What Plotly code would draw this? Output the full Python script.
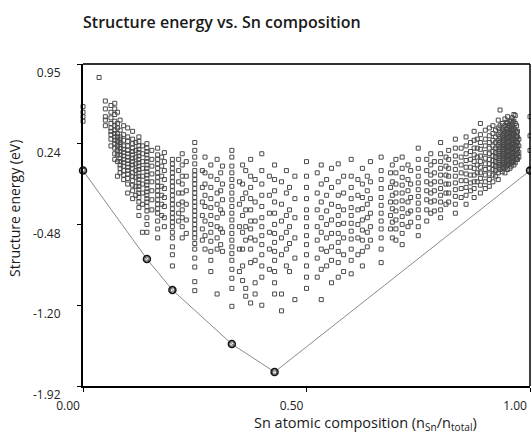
import plotly.graph_objects as go

# Sn fraction of each composition column
col_x = [0.0, 0.036, 0.05, 0.0625, 0.071, 0.077, 0.083, 0.091, 0.1, 0.111, 0.118, 0.125, 0.133, 0.143,
         0.154, 0.167, 0.176, 0.182, 0.2, 0.214, 0.222, 0.231, 0.25, 0.267, 0.273, 0.286, 0.3, 0.308,
         0.312, 0.333, 0.35, 0.357, 0.364, 0.375, 0.385, 0.4, 0.417, 0.4286, 0.444, 0.455, 0.462, 0.474,
         0.5, 0.524, 0.533, 0.545, 0.556, 0.571, 0.583, 0.6, 0.615, 0.625, 0.636, 0.643, 0.667, 0.688,
         0.692, 0.7, 0.714, 0.727, 0.733, 0.75, 0.769, 0.778, 0.786, 0.8, 0.812, 0.818, 0.833, 0.846,
         0.857, 0.867, 0.875, 0.882, 0.889, 0.9, 0.909, 0.917, 0.923, 0.929, 0.933, 0.938, 0.941, 0.944,
         0.947, 0.95, 0.952, 0.955, 0.958, 0.96, 0.962, 0.964, 0.967, 0.97, 0.972, 0.975, 1.0]

# Structure energies (eV) read per column
col_e = [
    [0.57, 0.52, 0.48, 0.44, 0.0],
    [0.83],
    [0.62, 0.55, 0.48, 0.45, 0.40],
    [0.58, 0.52, 0.47, 0.42, 0.38, 0.35, 0.32, 0.28, 0.22],
    [0.60, 0.55, 0.50, 0.44, 0.40, 0.36, 0.33, 0.30, 0.27, 0.24, 0.20, 0.15, 0.10],
    [0.52, 0.42, 0.38, 0.33, 0.30, 0.26, 0.22, 0.18, 0.14, 0.08, -0.05],
    [0.45, 0.36, 0.30, 0.28, 0.25, 0.23, 0.20, 0.17, 0.14, 0.11, 0.08, 0.05, 0.02, -0.02],
    [0.40, 0.32, 0.27, 0.22, 0.19, 0.16, 0.13, 0.10, 0.07, 0.04, 0.0, -0.04, -0.08],
    [0.38, 0.30, 0.26, 0.22, 0.18, 0.15, 0.12, 0.09, 0.06, 0.03, 0.0, -0.03, -0.07, -0.12, -0.20],
    [0.35, 0.28, 0.24, 0.20, 0.17, 0.14, 0.11, 0.08, 0.05, 0.02, -0.02, -0.05, -0.09, -0.13, -0.18, -0.25],
    [0.25, 0.18, 0.12, 0.06, 0.0, -0.06, -0.14, -0.22],
    [0.30, 0.26, 0.22, 0.19, 0.16, 0.13, 0.10, 0.07, 0.04, 0.01, -0.02, -0.05, -0.08, -0.11, -0.14, -0.17,
     -0.20, -0.24, -0.28, -0.33, -0.40],
    [0.22, 0.15, 0.08, 0.02, -0.05, -0.12, -0.20, -0.30, -0.55],
    [0.24, 0.20, 0.17, 0.14, 0.11, 0.08, 0.05, 0.02, -0.01, -0.04, -0.07, -0.10, -0.13, -0.16, -0.19, -0.22,
     -0.25, -0.28, -0.32, -0.36, -0.42, -0.48, -0.55, -0.788],
    [0.18, 0.10, 0.04, -0.03, -0.10, -0.18, -0.26, -0.35],
    [0.20, 0.14, 0.10, 0.06, 0.02, -0.02, -0.06, -0.10, -0.14, -0.18, -0.22, -0.26, -0.30, -0.34, -0.38,
     -0.45, -0.52, -0.60],
    [0.12, 0.04, -0.05, -0.14, -0.22, -0.30, -0.40],
    [0.16, 0.08, 0.0, -0.08, -0.16, -0.24, -0.32, -0.42, -0.50],
    [0.10, 0.06, 0.02, -0.02, -0.06, -0.10, -0.14, -0.18, -0.22, -0.26, -0.30, -0.34, -0.38, -0.42, -0.46,
     -0.50, -0.55, -0.60, -0.68, -0.75, -0.85, -1.064],
    [0.10, 0.0, -0.10, -0.20, -0.30, -0.38, -0.45],
    [0.15, 0.05, -0.05, -0.12, -0.20, -0.28, -0.35, -0.42, -0.50, -0.60],
    [0.08, -0.05, -0.18, -0.30, -0.44, -0.56],
    [0.25, 0.18, 0.12, 0.06, 0.0, -0.04, -0.08, -0.12, -0.16, -0.20, -0.24, -0.28, -0.32, -0.36, -0.40,
     -0.44, -0.48, -0.52, -0.56, -0.60, -0.65, -0.70, -0.78, -0.86, -0.99, -1.07],
    [0.0, -0.15, -0.28, -0.40, -0.52, -0.62],
    [0.12, -0.02, -0.12, -0.22, -0.32, -0.45, -0.58, -0.70],
    [0.05, -0.05, -0.15, -0.25, -0.33, -0.40, -0.48, -0.55, -0.63, -0.72, -0.80, -0.90],
    [0.10, -0.08, -0.20, -0.30, -0.42, -0.50, -0.60, -0.70, -1.10],
    [-0.02, -0.18, -0.35, -0.52, -0.66],
    [0.04, -0.12, -0.26, -0.38, -0.55, -0.72],
    [0.18, 0.12, 0.04, -0.02, -0.08, -0.14, -0.20, -0.26, -0.32, -0.38, -0.44, -0.50, -0.56, -0.62, -0.68,
     -0.74, -0.80, -0.88, -0.96, -1.05, -1.21, -1.546],
    [-0.10, -0.30, -0.50, -0.70, -0.90],
    [0.05, -0.12, -0.25, -0.40, -0.55, -0.70, -0.85, -0.98],
    [0.0, -0.20, -0.35, -0.50, -0.62, -1.05, -1.12],
    [0.10, -0.05, -0.15, -0.25, -0.35, -0.45, -0.52, -0.60, -0.70, -0.82, -1.18],
    [-0.08, -0.28, -0.45, -0.62, -0.80, -1.00, -1.10],
    [0.15, 0.0, -0.12, -0.22, -0.32, -0.42, -0.50, -0.58, -0.66, -0.75, -0.85, -0.95, -1.20],
    [-0.05, -0.22, -0.38, -0.55, -0.70, -0.88],
    [0.05, -0.08, -0.18, -0.28, -0.38, -0.48, -0.56, -0.64, -0.72, -0.80, -0.90, -1.00, -1.10, -1.795],
    [-0.10, -0.30, -0.45, -0.60, -0.75, -1.10, -1.25],
    [0.0, -0.20, -0.40, -0.55, -0.70, -0.85],
    [-0.15, -0.35, -0.50, -0.65, -0.90],
    [-0.05, -0.25, -0.42, -0.60, -0.78, -1.15],
    [0.08, -0.05, -0.15, -0.25, -0.35, -0.42, -0.50, -0.58, -0.66, -0.75, -0.85, -0.95, -1.05],
    [-0.02, -0.20, -0.35, -0.50, -0.62, -0.78, -0.95],
    [0.05, -0.12, -0.28, -0.42, -0.55, -0.70, -0.88, -1.15],
    [-0.08, -0.22, -0.36, -0.48, -0.60, -0.72, -0.85],
    [0.02, -0.15, -0.30, -0.44, -0.56, -0.68, -0.80, -1.00],
    [0.06, -0.10, -0.22, -0.32, -0.40, -0.48, -0.56, -0.64, -0.72, -0.82, -0.95],
    [-0.05, -0.20, -0.35, -0.47, -0.60, -0.75, -0.90],
    [0.10, -0.05, -0.15, -0.25, -0.33, -0.40, -0.47, -0.54, -0.61, -0.70, -0.80, -0.92],
    [-0.08, -0.22, -0.35, -0.48, -0.60, -0.75],
    [0.02, -0.12, -0.24, -0.34, -0.44, -0.53, -0.62, -0.72, -0.85],
    [-0.05, -0.18, -0.30, -0.42, -0.55, -0.68],
    [0.08, -0.10, -0.25, -0.38, -0.50, -0.62],
    [0.12, 0.0, -0.08, -0.16, -0.24, -0.31, -0.38, -0.45, -0.52, -0.60, -0.70, -0.82],
    [-0.02, -0.15, -0.28, -0.40, -0.52],
    [0.05, -0.10, -0.22, -0.34, -0.46, -0.60],
    [0.10, -0.02, -0.12, -0.20, -0.28, -0.36, -0.44, -0.52, -0.62],
    [0.12, 0.02, -0.06, -0.13, -0.20, -0.27, -0.34, -0.41, -0.48, -0.56, -0.66],
    [0.05, -0.08, -0.18, -0.28, -0.38, -0.50],
    [0.0, -0.12, -0.24, -0.36, -0.46],
    [0.20, 0.10, 0.02, -0.05, -0.11, -0.17, -0.23, -0.29, -0.35, -0.42, -0.50, -0.58],
    [0.10, 0.0, -0.10, -0.18, -0.26, -0.35, -0.45],
    [0.15, 0.05, -0.04, -0.12, -0.20, -0.28, -0.38],
    [0.08, -0.02, -0.10, -0.18, -0.27, -0.36],
    [0.25, 0.15, 0.08, 0.02, -0.04, -0.10, -0.16, -0.22, -0.28, -0.35, -0.42],
    [0.12, 0.04, -0.04, -0.12, -0.20, -0.30],
    [0.18, 0.10, 0.02, -0.05, -0.12, -0.20, -0.28],
    [0.28, 0.20, 0.13, 0.07, 0.01, -0.05, -0.11, -0.17, -0.23, -0.30, -0.38],
    [0.20, 0.12, 0.05, -0.02, -0.09, -0.16, -0.24],
    [0.30, 0.22, 0.15, 0.09, 0.03, -0.03, -0.09, -0.15, -0.22, -0.30],
    [0.25, 0.17, 0.10, 0.03, -0.04, -0.11, -0.18],
    [0.35, 0.27, 0.20, 0.14, 0.08, 0.02, -0.04, -0.10, -0.16, -0.24],
    [0.28, 0.20, 0.12, 0.05, -0.02, -0.10],
    [0.42, 0.32, 0.25, 0.19, 0.13, 0.08, 0.03, -0.02, -0.07, -0.13, -0.20],
    [0.36, 0.28, 0.22, 0.16, 0.11, 0.06, 0.01, -0.04, -0.10, -0.16],
    [0.38, 0.31, 0.25, 0.20, 0.15, 0.10, 0.06, 0.02, -0.03, -0.08, -0.14],
    [0.40, 0.33, 0.27, 0.22, 0.17, 0.13, 0.09, 0.05, 0.01, -0.04, -0.10],
    [0.36, 0.30, 0.25, 0.20, 0.16, 0.12, 0.08, 0.04, 0.0, -0.05],
    [0.45, 0.38, 0.32, 0.27, 0.23, 0.19, 0.15, 0.11, 0.07, 0.03, -0.02, -0.08],
    [0.54, 0.40, 0.34, 0.29, 0.25, 0.21, 0.17, 0.13, 0.09, 0.05, 0.01],
    [0.42, 0.36, 0.31, 0.27, 0.23, 0.19, 0.15, 0.11, 0.07, 0.03, -0.01],
    [0.38, 0.33, 0.29, 0.25, 0.21, 0.17, 0.13, 0.09, 0.05, 0.02],
    [0.46, 0.40, 0.35, 0.31, 0.27, 0.23, 0.19, 0.15, 0.11, 0.07, 0.03, -0.02],
    [0.43, 0.37, 0.32, 0.28, 0.24, 0.20, 0.16, 0.12, 0.08, 0.04],
    [0.48, 0.42, 0.37, 0.33, 0.29, 0.25, 0.21, 0.17, 0.13, 0.09, 0.05, 0.01],
    [0.40, 0.35, 0.30, 0.26, 0.22, 0.18, 0.14, 0.10, 0.06],
    [0.44, 0.39, 0.34, 0.30, 0.26, 0.22, 0.18, 0.14, 0.10, 0.06, 0.02],
    [0.45, 0.38, 0.33, 0.28, 0.24, 0.20, 0.16, 0.12, 0.08, 0.04],
    [0.47, 0.41, 0.36, 0.31, 0.27, 0.23, 0.19, 0.15, 0.11, 0.07],
    [0.43, 0.37, 0.32, 0.28, 0.24, 0.20, 0.16, 0.12, 0.08],
    [0.50, 0.44, 0.38, 0.33, 0.29, 0.25, 0.21, 0.17, 0.13, 0.09, 0.05],
    [0.49, 0.42, 0.36, 0.31, 0.27, 0.23, 0.19, 0.15, 0.11, 0.07],
    [0.40, 0.34, 0.30, 0.26, 0.22, 0.18, 0.14, 0.10],
    [0.35, 0.30, 0.25, 0.20, 0.15, 0.10],
    [0.28, 0.22, 0.16, 0.12],
    [0.48, 0.31, 0.18, 0.0],
]

# convex hull vertices
hull_x = [0.0, 0.143, 0.2, 0.333, 0.4286, 1.0]
hull_e = [0.0, -0.788, -1.064, -1.546, -1.795, 0.0]

y_ticks = [-1.92, -1.20, -0.48, 0.24, 0.95]
x_ticks = [0.0, 0.5, 1.0]

xs, ys = [], []
for cx, es in zip(col_x, col_e):
    for e in es:
        xs.append(cx)
        ys.append(e)

FONT = "Open Sans"
fig = go.Figure()
fig.add_trace(go.Scatter(
    x=hull_x, y=hull_e, mode="lines",
    line=dict(color="#8a8a8a", width=1), hoverinfo="skip", showlegend=False))
fig.add_trace(go.Scatter(
    x=xs, y=ys, mode="markers",
    marker=dict(symbol="square-open", size=4, color="#4a4a4a", line=dict(width=1)),
    showlegend=False, cliponaxis=False))
fig.add_trace(go.Scatter(
    x=hull_x, y=hull_e, mode="markers",
    marker=dict(symbol="circle-open", size=7, color="#111111", line=dict(width=1.5)),
    showlegend=False, cliponaxis=False))

fig.update_layout(
    width=531, height=434,
    margin=dict(l=83, r=1, t=64, b=48),
    paper_bgcolor="white", plot_bgcolor="white",
    font=dict(family=FONT, size=12, color="#222222"),
    title=dict(text="Structure energy vs. Sn composition", x=0, xref="paper", xanchor="left",
               y=1 - 22 / 434, yref="container", yanchor="middle",
               font=dict(family=FONT, size=16, color="#1a1a1a", weight=600)),
    xaxis=dict(range=[0, 1], tickvals=x_ticks, ticktext=[f"{v:.2f}" for v in x_ticks],
               showgrid=False, zeroline=False, showline=True, linecolor="black", linewidth=2,
               ticks="outside", ticklen=4, tickcolor="black", tickwidth=1,
               ticklabelshift=-15, ticklabelstandoff=4,
               tickfont=dict(size=12, color="#222222")),
    yaxis=dict(range=[-1.92, 0.95], tickvals=y_ticks, ticktext=[f"{v:.2f}" for v in y_ticks],
               showgrid=False, zeroline=False, showline=True, linecolor="black", linewidth=2,
               ticks="outside", ticklen=4, tickcolor="black", tickwidth=1,
               ticklabelshift=9, ticklabelstandoff=14,
               tickfont=dict(size=12, color="#222222")),
    shapes=[
        dict(type="line", xref="paper", yref="paper", x0=0, x1=1, y0=1, y1=1,
             line=dict(color="#333333", width=2)),
        dict(type="line", xref="paper", yref="paper", x0=1, x1=1, y0=0, y1=1,
             line=dict(color="black", width=1.5)),
    ],
    annotations=[
        dict(text="Sn atomic composition (n<sub>Sn</sub>/n<sub>total</sub>)", xref="paper", yref="paper",
             x=0.631, y=(386 - 436) / 322, xanchor="center", yanchor="bottom", showarrow=False,
             font=dict(family=FONT, size=14.5, color="#1a1a1a")),
        dict(text="Structure energy (eV)", xref="paper", yref="paper", textangle=-90,
             x=-0.152, y=0.55, xanchor="center", yanchor="middle", showarrow=False,
             font=dict(family=FONT, size=14, color="#1a1a1a")),
    ],
)

fig.write_html("out.html")
